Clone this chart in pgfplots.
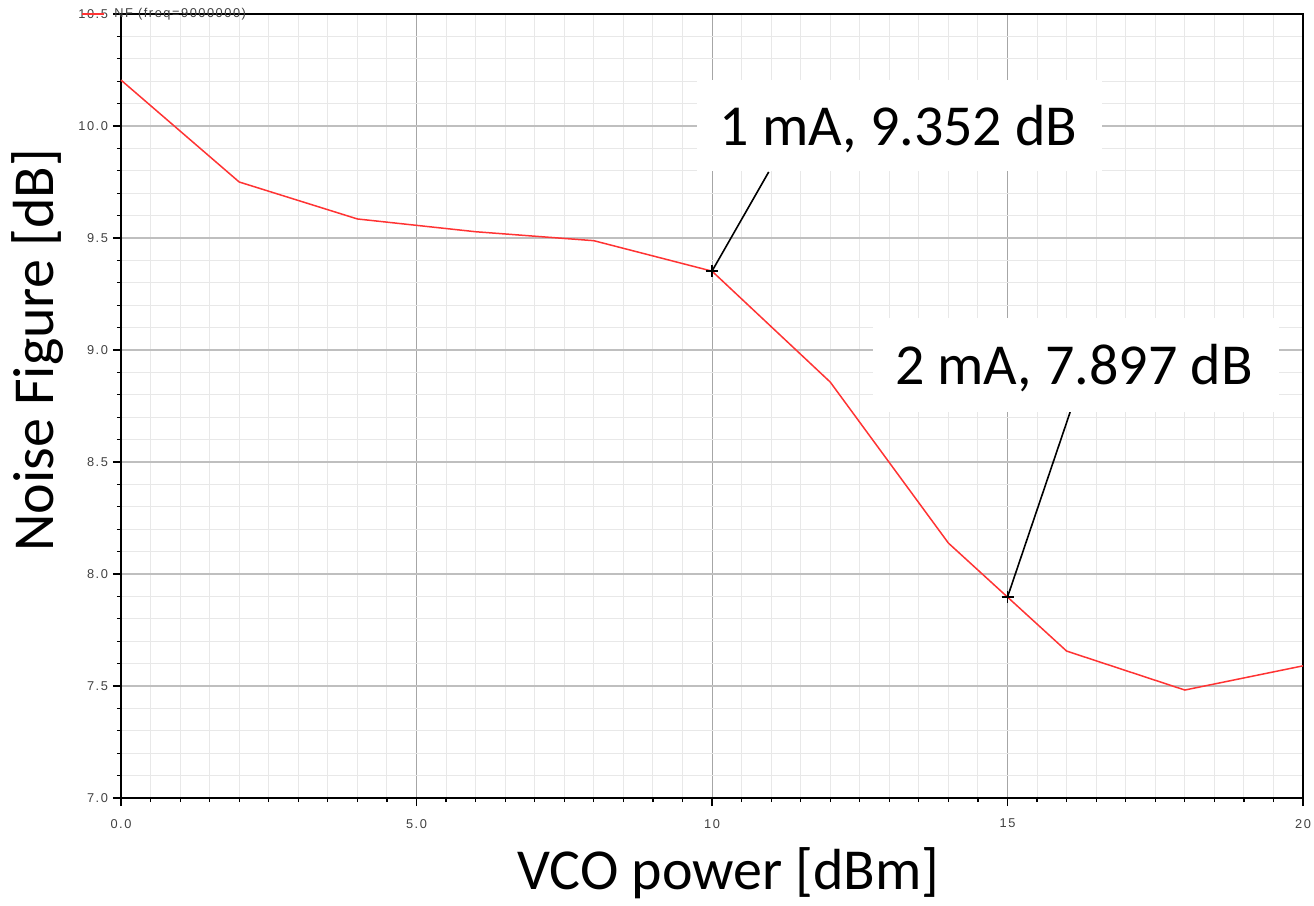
\documentclass[border=0pt]{standalone}
\usepackage{fontspec}
\setmainfont{Carlito}
\newfontfamily\tickfont[LetterSpace=12]{Liberation Sans}
\usepackage{pgfplots}
\usepackage{pgfplotstable}
\pgfplotsset{compat=1.18}
\definecolor{nfred}{HTML}{FF3333}

% noise figure vs VCO power
\pgfplotstableread{
vco nf
0 10.205
2 9.750
4 9.585
6 9.528
8 9.488
10 9.352
12 8.857
14 8.138
16 7.656
18 7.482
20 7.590
}\nfdata

\begin{document}
\begin{tikzpicture}
\begin{axis}[
    scale only axis,
    width=591pt, height=392pt,
    xmin=0, xmax=20, ymin=7, ymax=10.5,
    xtick={0,5,10,15,20},
    xticklabels={0.0,5.0,10,15,20},
    ytick={7,7.5,8,8.5,9,9.5,10,10.5},
    yticklabels={7.0,7.5,8.0,8.5,9.0,9.5,10.0,10.5},
    minor x tick num=9,
    minor y tick num=4,
    grid=both,
    major x grid style={black!35, line width=0.5pt},
    major y grid style={black!25, line width=1pt},
    minor grid style={black!9, line width=0.5pt},
    axis line style={black, line width=1pt},
    tick pos=left,
    tick align=outside,
    tick style={black, line width=0.6pt},
    major tick length=4pt, minor tick length=2pt,
    ticklabel style={font=\tickfont\fontsize{6.4}{7}\selectfont, text=black!75},
    xticklabel style={yshift=-3pt},
    yticklabel style={xshift=1pt},
    xlabel={VCO power [dBm]},
    ylabel={Noise Figure [dB]},
    label style={font=\fontsize{29}{34}\selectfont},
    xlabel style={at={(axis description cs:0.514,-0.096)}, anchor=center},
    ylabel style={at={(axis description cs:-0.0702,0.571)}, anchor=center},
    clip=false,
]
\coordinate (sw) at (rel axis cs:0,0);
\coordinate (ne) at (rel axis cs:1,1);

\addplot[nfred, line width=0.75pt] table[x=vco, y=nf] {\nfdata};

\addplot[only marks, mark=+, mark size=3pt, black, line width=0.7pt]
    coordinates {(10,9.352) (15,7.897)};

% annotation leaders
\draw[black, line width=0.8pt] (axis cs:10,9.352) -- (axis cs:10.96,9.795);
\draw[black, line width=0.8pt] (axis cs:15,7.897) -- (axis cs:16.06,8.723);

% annotation boxes
\fill[white] (axis cs:9.746,9.799) rectangle (axis cs:16.6,10.205);
\node[anchor=base, inner sep=0pt, font=\fontsize{29}{34}\selectfont]
    at (axis cs:13.155,9.915) {1 mA, 9.352 dB};
\fill[white] (axis cs:12.724,8.723) rectangle (axis cs:19.594,9.143);
\node[anchor=base, inner sep=0pt, font=\fontsize{29}{34}\selectfont]
    at (axis cs:16.125,8.844) {2 mA, 7.897 dB};

% legend remnant at top left
\draw[nfred, line width=0.8pt] (axis cs:-0.66,10.5) -- (axis cs:-0.29,10.5);
\node[anchor=west, inner sep=0pt, font=\tickfont\fontsize{6.4}{7}\selectfont, text=black!75]
    at (axis cs:-0.118,10.5) {NF (freq=9000000)};
\end{axis}
\pgfresetboundingbox
\path ([shift={(-60.5pt,-53.5pt)}]sw) rectangle ([shift={(5.5pt,7pt)}]ne);
\end{tikzpicture}
\end{document}
